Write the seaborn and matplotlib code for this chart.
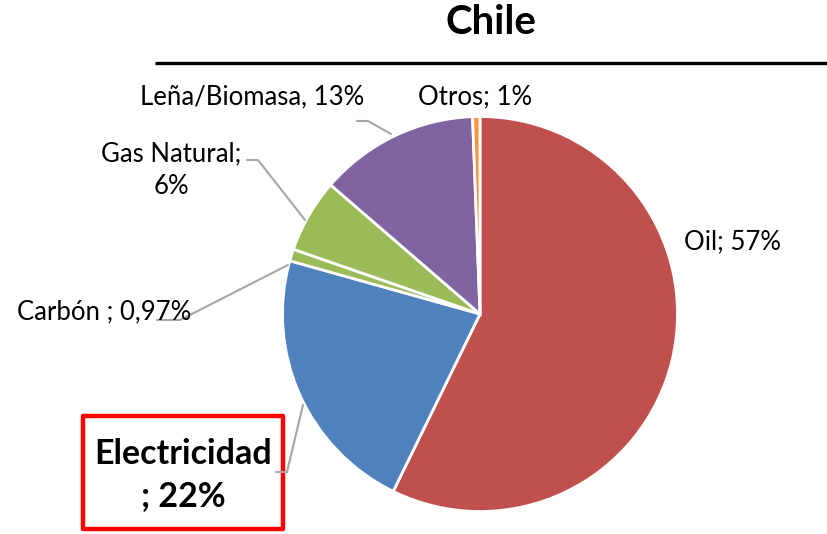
import matplotlib.pyplot as plt
import seaborn as sns

# data
categories = ["Oil", "Electricidad", "Carbón", "Gas Natural", "Leña/Biomasa", "Otros"]
shares = [57, 22, 0.97, 6, 13, 0.6]
label_texts = ["Oil; 57%", "Electricidad\n; 22%", "Carbón ; 0,97%",
               "Gas Natural;\n6%", "Leña/Biomasa, 13%", "Otros; 1%"]
colors = ["#C0504D", "#4F81BD", "#9BBB59", "#9BBB59", "#8064A2", "#F79646"]

sns.set_theme(style="white")
plt.rcParams['font.family'] = ['Lato', 'DejaVu Sans']
plt.rcParams['text.color'] = 'black'

W, H = 827, 534
fig = plt.figure(figsize=(W / 100, H / 100), dpi=100)
ax = fig.add_axes([0, 0, 1, 1])


def py(y):
    # pixel row -> data y
    return H - y


explode = [0.02, 0, 0, 0, 0, 0]
ax.pie(shares, colors=colors, startangle=90, counterclock=False, explode=explode,
       center=(480, py(314)), radius=197.5,
       wedgeprops=dict(edgecolor="white", linewidth=2.0))
ax.set_xlim(0, W)
ax.set_ylim(0, H)
ax.set_aspect("equal")
ax.axis("off")

# title and rule
ax.text(491, py(22), "Chile", ha="center", va="center", fontsize=29, fontweight="bold")
ax.plot([155, W], [py(63), py(63)], color="black", lw=2.4, solid_capstyle="butt")

lc = "#A6A6A6"
lw = 1.5
fs = 18.5

# Oil
ax.text(733, py(242), label_texts[0], ha="center", va="center", fontsize=fs)
# Otros
ax.text(475, py(97), label_texts[5], ha="center", va="center", fontsize=fs)
# Leña
ax.text(252, py(97), label_texts[4], ha="center", va="center", fontsize=fs)
ax.plot([357, 368, 391], [py(121), py(121), py(134)], color=lc, lw=lw)
# Gas natural
ax.text(171, py(170), label_texts[3], ha="center", va="center", fontsize=fs,
        linespacing=1.4)
ax.plot([247, 258, 305], [py(160), py(160), py(220)], color=lc, lw=lw)
# Carbon
ax.text(104, py(312), label_texts[2], ha="center", va="center", fontsize=fs)
ax.plot([157, 180, 288], [py(320), py(320), py(265)], color=lc, lw=lw)
# Electricidad
ax.text(183, py(475), label_texts[1], ha="center", va="center", fontsize=24.5,
        fontweight="bold", linespacing=1.42)
ax.plot([276, 287, 303], [py(472), py(472), py(405)], color=lc, lw=lw)
box = plt.Rectangle((83, py(529)), 200, 113, fill=False, edgecolor="#FF0000", lw=3.2,
                    joinstyle="round")
ax.add_patch(box)

fig.savefig("out.png", dpi=100)
